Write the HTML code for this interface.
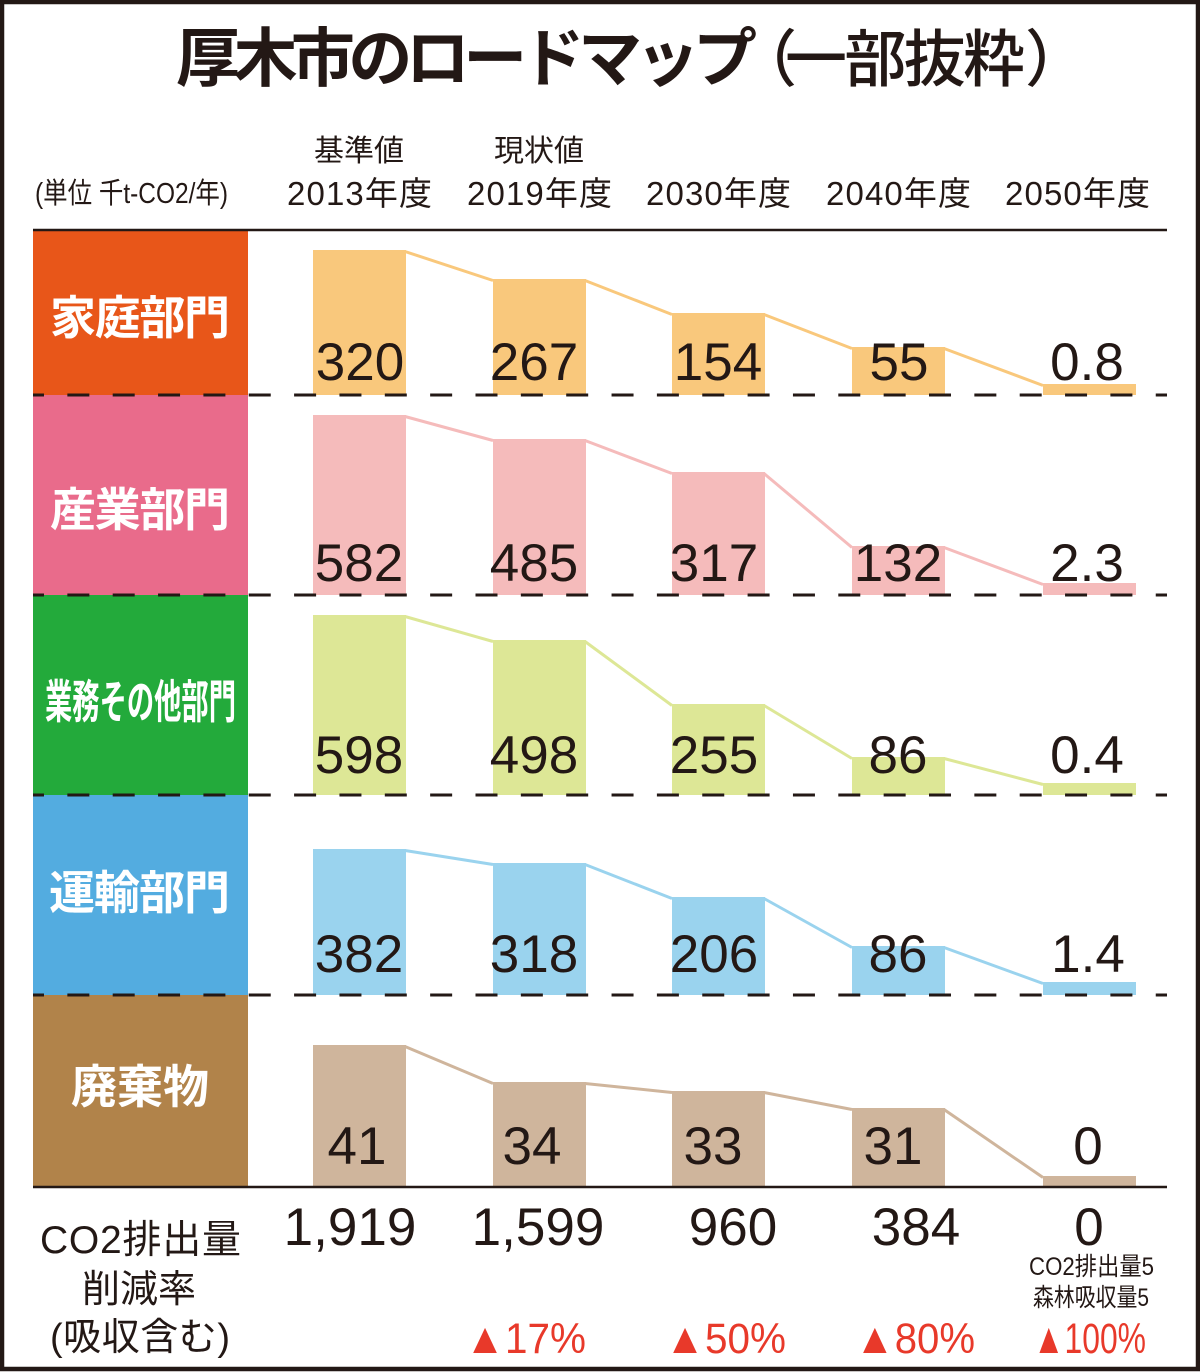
<!DOCTYPE html>
<html><head><meta charset="utf-8"><style>
html,body{margin:0;padding:0;background:#fff;}
svg{display:block;}
text{font-family:"Liberation Sans","Noto Sans CJK JP",sans-serif;fill:#231815;}
.w{fill:#fff;font-weight:700;}
.v{font-size:53px;text-anchor:middle;}
.r{fill:#E8392A;font-size:43px;}
</style></head><body>
<svg width="1200" height="1372" viewBox="0 0 1200 1372" xmlns="http://www.w3.org/2000/svg">
<rect x="0" y="0" width="1200" height="1372" fill="#fff"/>
<rect x="2" y="2" width="1196" height="1367" fill="none" stroke="#231815" stroke-width="4.5"/>

<!-- Title -->
<text x="176" y="81" font-size="64" font-weight="700" textLength="581" lengthAdjust="spacing">厚木市のロードマップ</text>
<text x="735" y="81" font-size="62" font-weight="500">（</text>
<text x="785" y="81" font-size="62" font-weight="500" textLength="240" lengthAdjust="spacing">一部抜粋</text>
<text x="1025" y="81" font-size="62" font-weight="500">）</text>

<!-- Header -->
<text x="35" y="203" font-size="29" textLength="193" lengthAdjust="spacingAndGlyphs">(単位  千t-CO2/年)</text>
<text x="359" y="161" font-size="30" text-anchor="middle">基準値</text>
<text x="539" y="161" font-size="30" text-anchor="middle">現状値</text>
<text x="287" y="205" font-size="33" textLength="145" lengthAdjust="spacing">2013年度</text>
<text x="467" y="205" font-size="33" textLength="145" lengthAdjust="spacing">2019年度</text>
<text x="646" y="205" font-size="33" textLength="145" lengthAdjust="spacing">2030年度</text>
<text x="826" y="205" font-size="33" textLength="145" lengthAdjust="spacing">2040年度</text>
<text x="1005" y="205" font-size="33" textLength="145" lengthAdjust="spacing">2050年度</text>

<!-- Category boxes -->
<rect x="33" y="231" width="215" height="165" fill="#E85619"/>
<rect x="33" y="395" width="215" height="201" fill="#E96B8B"/>
<rect x="33" y="595" width="215" height="201" fill="#23AA3B"/>
<rect x="33" y="795" width="215" height="201" fill="#53ACE0"/>
<rect x="33" y="995" width="215" height="192" fill="#B1834A"/>

<text class="w" x="50" y="334" font-size="46" textLength="180" lengthAdjust="spacing">家庭部門</text>
<text class="w" x="50" y="526" font-size="46" textLength="180" lengthAdjust="spacing">産業部門</text>
<text class="w" x="45" y="718" font-size="46" textLength="191" lengthAdjust="spacingAndGlyphs">業務その他部門</text>
<text class="w" x="49" y="909" font-size="46" textLength="181" lengthAdjust="spacing">運輸部門</text>
<text class="w" x="71" y="1103" font-size="46" textLength="138" lengthAdjust="spacing">廃棄物</text>

<!-- Section 1 bars (orange) -->
<g fill="#F9C87C">
<rect x="313" y="250" width="93" height="145"/>
<rect x="493" y="279" width="93" height="116"/>
<rect x="672" y="313" width="93" height="82"/>
<rect x="852" y="347" width="93" height="48"/>
<rect x="1043" y="384" width="93" height="11"/>
</g>
<polyline fill="none" stroke="#F9C87C" stroke-width="3" points="405,251.5 493,280.5"/>
<polyline fill="none" stroke="#F9C87C" stroke-width="3" points="585,280.5 672,314.5"/>
<polyline fill="none" stroke="#F9C87C" stroke-width="3" points="764,314.5 852,348.5"/>
<polyline fill="none" stroke="#F9C87C" stroke-width="3" points="944,348.5 1043,385.5"/>

<!-- Section 2 bars (pink) -->
<g fill="#F5BBBB">
<rect x="313" y="415" width="93" height="180"/>
<rect x="493" y="439" width="93" height="156"/>
<rect x="672" y="472" width="93" height="123"/>
<rect x="852" y="546" width="93" height="49"/>
<rect x="1043" y="583" width="93" height="12"/>
</g>
<polyline fill="none" stroke="#F5BBBB" stroke-width="3" points="405,416.5 493,440.5"/>
<polyline fill="none" stroke="#F5BBBB" stroke-width="3" points="585,440.5 672,473.5"/>
<polyline fill="none" stroke="#F5BBBB" stroke-width="3" points="764,473.5 852,547.5"/>
<polyline fill="none" stroke="#F5BBBB" stroke-width="3" points="944,547.5 1043,584.5"/>

<!-- Section 3 bars (green) -->
<g fill="#DDE796">
<rect x="313" y="615" width="93" height="180"/>
<rect x="493" y="640" width="93" height="155"/>
<rect x="672" y="704" width="93" height="91"/>
<rect x="852" y="757" width="93" height="38"/>
<rect x="1043" y="783" width="93" height="12"/>
</g>
<polyline fill="none" stroke="#DDE796" stroke-width="3" points="405,616.5 493,641.5"/>
<polyline fill="none" stroke="#DDE796" stroke-width="3" points="585,641.5 672,705.5"/>
<polyline fill="none" stroke="#DDE796" stroke-width="3" points="764,705.5 852,758.5"/>
<polyline fill="none" stroke="#DDE796" stroke-width="3" points="944,758.5 1043,784.5"/>

<!-- Section 4 bars (blue) -->
<g fill="#9AD3EE">
<rect x="313" y="849" width="93" height="146"/>
<rect x="493" y="863" width="93" height="132"/>
<rect x="672" y="897" width="93" height="98"/>
<rect x="852" y="946" width="93" height="49"/>
<rect x="1043" y="982" width="93" height="13"/>
</g>
<polyline fill="none" stroke="#9AD3EE" stroke-width="3" points="405,850.5 493,864.5"/>
<polyline fill="none" stroke="#9AD3EE" stroke-width="3" points="585,864.5 672,898.5"/>
<polyline fill="none" stroke="#9AD3EE" stroke-width="3" points="764,898.5 852,947.5"/>
<polyline fill="none" stroke="#9AD3EE" stroke-width="3" points="944,947.5 1043,983.5"/>

<!-- Section 5 bars (brown) -->
<g fill="#CFB59C">
<rect x="313" y="1045" width="93" height="142"/>
<rect x="493" y="1082" width="93" height="105"/>
<rect x="672" y="1091" width="93" height="96"/>
<rect x="852" y="1108" width="93" height="79"/>
<rect x="1043" y="1176" width="93" height="11"/>
</g>
<polyline fill="none" stroke="#CFB59C" stroke-width="3" points="405,1046.5 493,1083.5"/>
<polyline fill="none" stroke="#CFB59C" stroke-width="3" points="585,1083.5 672,1092.5"/>
<polyline fill="none" stroke="#CFB59C" stroke-width="3" points="764,1092.5 852,1109.5"/>
<polyline fill="none" stroke="#CFB59C" stroke-width="3" points="944,1109.5 1043,1177.5"/>

<!-- Lines -->
<line x1="33" y1="230" x2="1167" y2="230" stroke="#231815" stroke-width="2.5"/>
<line x1="33" y1="1187" x2="1167" y2="1187" stroke="#231815" stroke-width="2.5"/>
<g stroke="#231815" stroke-width="3" stroke-dasharray="22 23.35" stroke-dashoffset="11">
<line x1="33" y1="395" x2="1167" y2="395"/>
<line x1="33" y1="595" x2="1167" y2="595"/>
<line x1="33" y1="795" x2="1167" y2="795"/>
<line x1="33" y1="995" x2="1167" y2="995"/>
</g>

<!-- Values -->
<text class="v" x="360" y="380">320</text>
<text class="v" x="534" y="380">267</text>
<text class="v" x="718" y="380">154</text>
<text class="v" x="899" y="380">55</text>
<text class="v" x="1087" y="380">0.8</text>

<text class="v" x="359" y="581">582</text>
<text class="v" x="534" y="581">485</text>
<text class="v" x="714" y="581">317</text>
<text class="v" x="898" y="581">132</text>
<text class="v" x="1087" y="581">2.3</text>

<text class="v" x="359" y="773">598</text>
<text class="v" x="534" y="773">498</text>
<text class="v" x="714" y="773">255</text>
<text class="v" x="898" y="773">86</text>
<text class="v" x="1087" y="773">0.4</text>

<text class="v" x="359" y="972">382</text>
<text class="v" x="534" y="972">318</text>
<text class="v" x="714" y="972">206</text>
<text class="v" x="898" y="972">86</text>
<text class="v" x="1088" y="972">1.4</text>

<text class="v" x="357" y="1164">41</text>
<text class="v" x="532" y="1164">34</text>
<text class="v" x="713" y="1164">33</text>
<text class="v" x="893" y="1164">31</text>
<text class="v" x="1088" y="1164">0</text>

<!-- Totals -->
<text x="40" y="1253" font-size="39" textLength="201" lengthAdjust="spacing">CO2排出量</text>
<text x="139" y="1302" font-size="38" text-anchor="middle">削減率</text>
<text x="50" y="1350" font-size="38" textLength="180" lengthAdjust="spacing">(吸収含む)</text>

<text class="v" x="350" y="1245" font-size="52">1,919</text>
<text class="v" x="538" y="1245" font-size="52">1,599</text>
<text class="v" x="733" y="1245" font-size="52">960</text>
<text class="v" x="916" y="1245" font-size="52">384</text>
<text class="v" x="1089" y="1245" font-size="52">0</text>

<text x="1029" y="1275" font-size="25" textLength="125" lengthAdjust="spacingAndGlyphs">CO2排出量5</text>
<text x="1033" y="1306" font-size="25" textLength="116" lengthAdjust="spacingAndGlyphs">森林吸収量5</text>

<text class="r" x="465" y="1353" textLength="121" lengthAdjust="spacingAndGlyphs">▲17%</text>
<text class="r" x="665" y="1353" textLength="121" lengthAdjust="spacingAndGlyphs">▲50%</text>
<text class="r" x="855" y="1353" textLength="120" lengthAdjust="spacingAndGlyphs">▲80%</text>
<text class="r" x="1033" y="1353" textLength="113" lengthAdjust="spacingAndGlyphs">▲100%</text>
</svg>
</body></html>
